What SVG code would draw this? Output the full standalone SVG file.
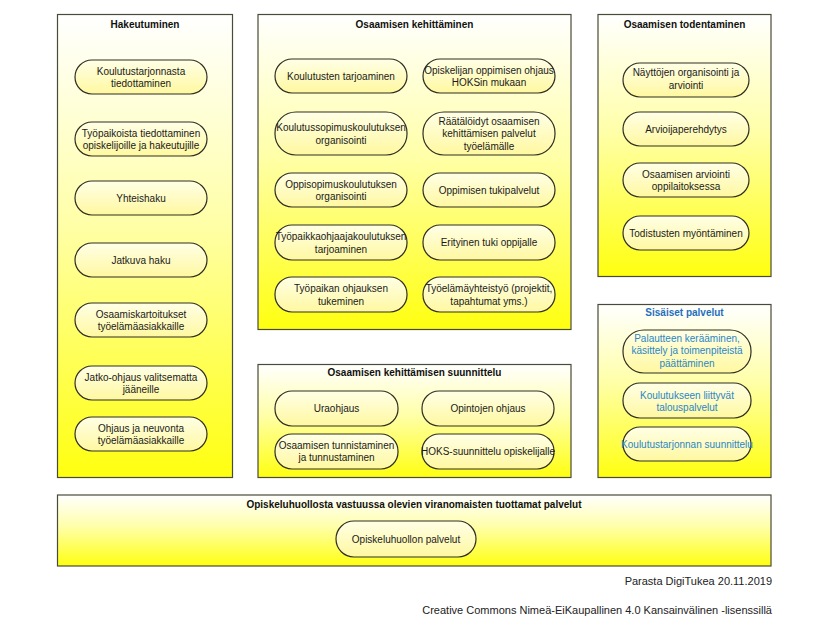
<svg xmlns="http://www.w3.org/2000/svg" width="836" height="632" viewBox="0 0 836 632">
<defs>
<linearGradient id="gBox" x1="0" y1="0" x2="0" y2="1">
<stop offset="0" stop-color="#ffffff"/>
<stop offset="0.45" stop-color="#ffffa8"/>
<stop offset="1" stop-color="#ffff10"/>
</linearGradient>
<linearGradient id="gPill" x1="0" y1="0" x2="0" y2="1">
<stop offset="0" stop-color="#ffffe6"/>
<stop offset="1" stop-color="#fff8a0"/>
</linearGradient>
</defs>
<style>
.box{fill:url(#gBox);stroke:#4a4a38;stroke-width:1.2}
.pill{fill:url(#gPill);stroke:#2e2e22;stroke-width:1.2}
.t{font-family:"Liberation Sans",Arial,sans-serif;font-size:10px;fill:#1a1a1a;text-anchor:middle}
.h{font-family:"Liberation Sans",Arial,sans-serif;font-size:10px;font-weight:bold;fill:#111;text-anchor:middle}
.blue{fill:#2a86c8}
.hb{fill:#1f6fc0}
.f{font-family:"Liberation Sans",Arial,sans-serif;font-size:11px;fill:#222;text-anchor:end}
</style>
<rect width="836" height="632" fill="#ffffff"/>

<g id="hakeutuminen">
<rect class="box" x="57.5" y="14.5" width="175" height="463"/>
<text class="h" x="145" y="28">Hakeutuminen</text>
<g id="h1"><rect class="pill" x="75" y="60" width="132" height="34" rx="17"/><text class="t" x="141" y="74.5">Koulutustarjonnasta</text><text class="t" x="141" y="87">tiedottaminen</text></g>
<g id="h2"><rect class="pill" x="75" y="122" width="132" height="34" rx="17"/><text class="t" x="141" y="136.5">Työpaikoista tiedottaminen</text><text class="t" x="141" y="149">opiskelijoille ja hakeutujille</text></g>
<g id="h3"><rect class="pill" x="75" y="181" width="132" height="34" rx="17"/><text class="t" x="141" y="201.5">Yhteishaku</text></g>
<g id="h4"><rect class="pill" x="75" y="243" width="132" height="34" rx="17"/><text class="t" x="141" y="263.5">Jatkuva haku</text></g>
<g id="h5"><rect class="pill" x="75" y="303" width="132" height="34" rx="17"/><text class="t" x="141" y="317.5">Osaamiskartoitukset</text><text class="t" x="141" y="330">työelämäasiakkaille</text></g>
<g id="h6"><rect class="pill" x="75" y="366" width="132" height="34" rx="17"/><text class="t" x="141" y="380.5">Jatko-ohjaus valitsematta</text><text class="t" x="141" y="393">jääneille</text></g>
<g id="h7"><rect class="pill" x="75" y="417" width="132" height="34" rx="17"/><text class="t" x="141" y="431.5">Ohjaus ja neuvonta</text><text class="t" x="141" y="444">työelämäasiakkaille</text></g>
</g>

<g id="osaamisen-kehittaminen">
<rect class="box" x="258" y="14.5" width="313" height="315"/>
<text class="h" x="414.5" y="28">Osaamisen kehittäminen</text>
<g id="k1"><rect class="pill" x="275" y="59" width="132" height="34" rx="17"/><text class="t" x="341" y="79.5">Koulutusten tarjoaminen</text></g>
<g id="k2"><rect class="pill" x="275" y="112" width="132" height="43" rx="21"/><text class="t" x="341" y="131">Koulutussopimuskoulutuksen</text><text class="t" x="341" y="143.5">organisointi</text></g>
<g id="k3"><rect class="pill" x="275" y="173" width="132" height="34" rx="17"/><text class="t" x="341" y="187.5">Oppisopimuskoulutuksen</text><text class="t" x="341" y="200">organisointi</text></g>
<g id="k4"><rect class="pill" x="275" y="225" width="132" height="35" rx="17"/><text class="t" x="341" y="240">Työpaikkaohjaajakoulutuksen</text><text class="t" x="341" y="252.5">tarjoaminen</text></g>
<g id="k5"><rect class="pill" x="275" y="277" width="132" height="35" rx="17"/><text class="t" x="341" y="292">Työpaikan ohjauksen</text><text class="t" x="341" y="304.5">tukeminen</text></g>
<g id="k6"><rect class="pill" x="423" y="59" width="132" height="34" rx="17"/><text class="t" x="489" y="73.5">Opiskelijan oppimisen ohjaus</text><text class="t" x="489" y="86">HOKSin mukaan</text></g>
<g id="k7"><rect class="pill" x="423" y="112" width="132" height="43" rx="21"/><text class="t" x="489" y="124.5">Räätälöidyt osaamisen</text><text class="t" x="489" y="137">kehittämisen palvelut</text><text class="t" x="489" y="149.5">työelämälle</text></g>
<g id="k8"><rect class="pill" x="423" y="173" width="132" height="34" rx="17"/><text class="t" x="489" y="193.5">Oppimisen tukipalvelut</text></g>
<g id="k9"><rect class="pill" x="423" y="225" width="132" height="35" rx="17"/><text class="t" x="489" y="246">Erityinen tuki oppijalle</text></g>
<g id="k10"><rect class="pill" x="423" y="277" width="132" height="35" rx="17"/><text class="t" x="489" y="292">Työelämäyhteistyö (projektit,</text><text class="t" x="489" y="304.5">tapahtumat yms.)</text></g>
</g>

<g id="suunnittelu">
<rect class="box" x="258" y="364.5" width="313" height="113"/>
<text class="h" x="414.5" y="376">Osaamisen kehittämisen suunnittelu</text>
<g id="s1"><rect class="pill" x="275" y="391" width="123" height="35" rx="17"/><text class="t" x="336.5" y="412">Uraohjaus</text></g>
<g id="s2"><rect class="pill" x="422" y="391" width="132" height="35" rx="17"/><text class="t" x="488" y="412">Opintojen ohjaus</text></g>
<g id="s3"><rect class="pill" x="275" y="434" width="123" height="35" rx="17"/><text class="t" x="336.5" y="448.5">Osaamisen tunnistaminen</text><text class="t" x="336.5" y="461">ja tunnustaminen</text></g>
<g id="s4"><rect class="pill" x="422" y="434" width="132" height="35" rx="17"/><text class="t" x="488" y="455">HOKS-suunnittelu opiskelijalle</text></g>
</g>

<g id="todentaminen">
<rect class="box" x="598" y="14.5" width="173" height="262"/>
<text class="h" x="684.5" y="28">Osaamisen todentaminen</text>
<g id="t1"><rect class="pill" x="623" y="63" width="126" height="34" rx="17"/><text class="t" x="686" y="76">Näyttöjen organisointi ja</text><text class="t" x="686" y="88.5">arviointi</text></g>
<g id="t2"><rect class="pill" x="623" y="112" width="126" height="34" rx="17"/><text class="t" x="686" y="132.5">Arvioijaperehdytys</text></g>
<g id="t3"><rect class="pill" x="623" y="163" width="126" height="34" rx="17"/><text class="t" x="686" y="177.5">Osaamisen arviointi</text><text class="t" x="686" y="190">oppilaitoksessa</text></g>
<g id="t4"><rect class="pill" x="623" y="216" width="126" height="34" rx="17"/><text class="t" x="686" y="236.5">Todistusten myöntäminen</text></g>
</g>

<g id="sisaiset-palvelut">
<rect class="box" x="598" y="304.5" width="173" height="173"/>
<text class="h hb" x="684.5" y="316">Sisäiset palvelut</text>
<g id="p1"><rect class="pill" x="623" y="330" width="128" height="43" rx="21"/><text class="t blue" x="687" y="341.5">Palautteen kerääminen,</text><text class="t blue" x="687" y="354">käsittely ja toimenpiteistä</text><text class="t blue" x="687" y="366.5">päättäminen</text></g>
<g id="p2"><rect class="pill" x="623" y="383" width="128" height="35" rx="17"/><text class="t blue" x="687" y="398.5">Koulutukseen liittyvät</text><text class="t blue" x="687" y="411">talouspalvelut</text></g>
<g id="p3"><rect class="pill" x="623" y="427" width="128" height="34" rx="17"/><text class="t blue" x="687" y="447.5">Koulutustarjonnan suunnittelu</text></g>
</g>

<g id="opiskeluhuolto">
<rect class="box" x="57.5" y="495" width="713.5" height="71"/>
<text class="h" x="414" y="508">Opiskeluhuollosta vastuussa olevien viranomaisten tuottamat palvelut</text>
<g id="o1"><rect class="pill" x="336" y="521" width="140" height="36" rx="18"/><text class="t" x="406" y="542.5">Opiskeluhuollon palvelut</text></g>
</g>

<g id="connectors"/>

<text class="f" x="772" y="585">Parasta DigiTukea 20.11.2019</text>
<text class="f" x="772" y="614">Creative Commons Nimeä-EiKaupallinen 4.0 Kansainvälinen -lisenssillä</text>
</svg>
